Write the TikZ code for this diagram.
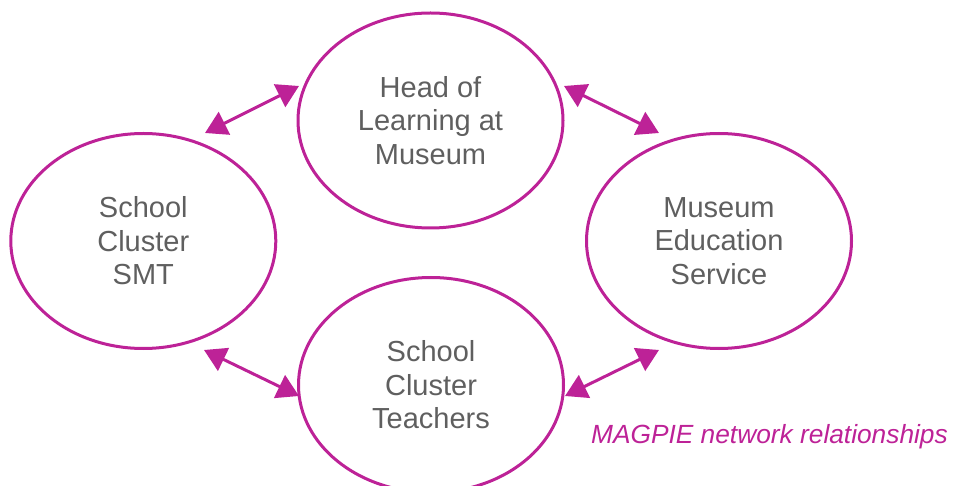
\documentclass[tikz,border=0pt]{standalone}
\usepackage{fontspec}
\setmainfont{Liberation Sans}
\usetikzlibrary{shapes.geometric,arrows.meta}
\definecolor{magpie}{RGB}{189,34,151}
\definecolor{labelgrey}{RGB}{95,95,95}
\begin{document}
\begin{tikzpicture}[x=1pt,y=-1pt,
  party/.style={ellipse,draw=magpie,line width=3pt,minimum width=265pt,
    minimum height=215pt,inner sep=0pt,align=center,text=labelgrey,
    font=\fontsize{29}{33.5}\selectfont},
  link/.style={draw=magpie,line width=3pt,
    {Triangle[length=21.7pt,width=25pt]}-{Triangle[length=21.7pt,width=25pt]}}]
  \useasboundingbox (0,0) rectangle (953,486);

  % the four partners
  \node[party] (head)     at (430.5,120.5) {Head of\\Learning at\\Museum};
  \node[party] (smt)      at (143.3,241)   {School\\Cluster\\SMT};
  \node[party] (service)  at (719,241)     {Museum\\Education\\Service};
  \node[party] (teachers) at (431,385)     {School\\Cluster\\Teachers};

  % ends of the two-way links, set just off each ellipse
  \coordinate (smtN)      at (205,133);
  \coordinate (headW)     at (299,86);
  \coordinate (headE)     at (564,86);
  \coordinate (serviceN)  at (659,133);
  \coordinate (smtS)      at (204,350);
  \coordinate (teachersW) at (299,396);
  \coordinate (teachersE) at (565,396);
  \coordinate (serviceS)  at (659,350);

  \draw[link] (smtN) -- (headW);
  \draw[link] (headE) -- (serviceN);
  \draw[link] (smtS) -- (teachersW);
  \draw[link] (teachersE) -- (serviceS);

  % caption
  \node[anchor=base east,inner sep=0pt,text=magpie,
    font=\fontsize{26.3}{30}\selectfont\itshape] (caption) at (948,443)
    {MAGPIE network relationships};
\end{tikzpicture}
\end{document}
